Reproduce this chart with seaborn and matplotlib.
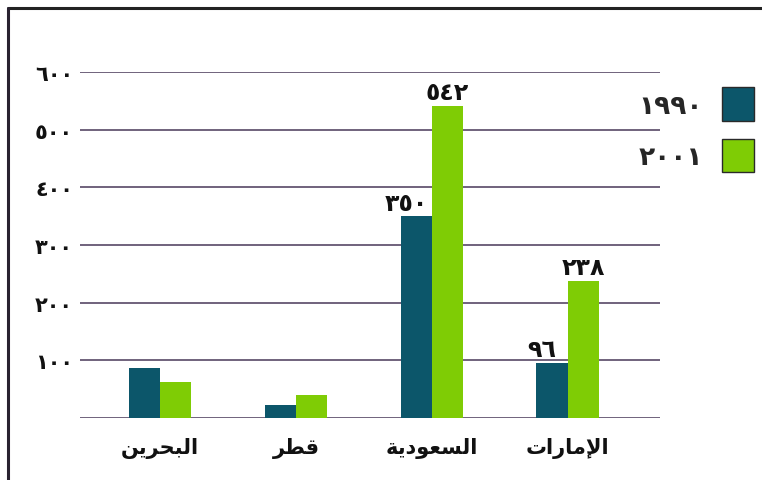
import pandas as pd
import matplotlib
matplotlib.use("Agg")
import matplotlib.pyplot as plt
from matplotlib.lines import Line2D
import seaborn as sns

# ---------------- data ----------------
COUNTRIES = ["البحرين", "قطر", "السعودية", "الإمارات"]
YEARS = ["١٩٩٠", "٢٠٠١"]
VALUES_1990 = [87, 22, 350, 96]
VALUES_2001 = [63, 40, 542, 238]
LABELS_1990 = ["", "", "٣٥٠", "٩٦"]
LABELS_2001 = ["", "", "٥٤٢", "٢٣٨"]
YTICKS = [0, 100, 200, 300, 400, 500, 600]
YTICK_LABELS = ["", "١٠٠", "٢٠٠", "٣٠٠", "٤٠٠", "٥٠٠", "٦٠٠"]

# ---------------- style ----------------
COLORS = {"١٩٩٠": "#0c566a", "٢٠٠١": "#7fcc05"}
GRID_COLOR = "#574866"
TEXT_COLOR = "#111111"
LABEL_SHIFT = {0: -7, 1: 0}     # points; 1990 labels sit a bit left of their bar

# tiny Arabic shaper (matplotlib has no complex text layout)
FORMS = {  # isolated, final, initial, medial
    "ا": ("\ufe8d", "\ufe8e", None, None),
    "إ": ("\ufe87", "\ufe88", None, None),
    "ب": ("\ufe8f", "\ufe90", "\ufe91", "\ufe92"),
    "ة": ("\ufe93", "\ufe94", None, None),
    "ت": ("\ufe95", "\ufe96", "\ufe97", "\ufe98"),
    "ح": ("\ufea1", "\ufea2", "\ufea3", "\ufea4"),
    "د": ("\ufea9", "\ufeaa", None, None),
    "ر": ("\ufead", "\ufeae", None, None),
    "س": ("\ufeb1", "\ufeb2", "\ufeb3", "\ufeb4"),
    "ط": ("\ufec1", "\ufec2", "\ufec3", "\ufec4"),
    "ع": ("\ufec9", "\ufeca", "\ufecb", "\ufecc"),
    "ق": ("\ufed5", "\ufed6", "\ufed7", "\ufed8"),
    "ل": ("\ufedd", "\ufede", "\ufedf", "\ufee0"),
    "م": ("\ufee1", "\ufee2", "\ufee3", "\ufee4"),
    "ن": ("\ufee5", "\ufee6", "\ufee7", "\ufee8"),
    "و": ("\ufeed", "\ufeee", None, None),
    "ي": ("\ufef1", "\ufef2", "\ufef3", "\ufef4"),
    "لا": ("\ufefb", "\ufefc", None, None),
    "لإ": ("\ufef9", "\ufefa", None, None),
}


def shape(word):
    units, i = [], 0
    while i < len(word):
        if word[i] == "ل" and i + 1 < len(word) and word[i:i + 2] in FORMS:
            units.append(word[i:i + 2]); i += 2
        else:
            units.append(word[i]); i += 1
    out = []
    for k, u in enumerate(units):
        f = FORMS[u]
        prev = k > 0 and FORMS[units[k - 1]][2] is not None
        nxt = k + 1 < len(units) and f[2] is not None
        if prev and nxt:
            out.append(f[3])
        elif prev:
            out.append(f[1])
        elif nxt:
            out.append(f[2])
        else:
            out.append(f[0])
    return "".join(reversed(out))


df = pd.DataFrame({
    "country": COUNTRIES * 2,
    "year": [YEARS[0]] * len(COUNTRIES) + [YEARS[1]] * len(COUNTRIES),
    "value": VALUES_1990 + VALUES_2001,
})

sns.set_theme(style="white")
plt.rcParams["font.family"] = ["DejaVu Sans"]
plt.rcParams["font.weight"] = "bold"

fig = plt.figure(figsize=(7.62, 4.81), dpi=100)
ax = fig.add_axes([0.105, 0.129, 0.761, 0.719])

sns.barplot(data=df, x="country", y="value", hue="year", order=COUNTRIES,
            hue_order=YEARS, palette=COLORS, width=0.46, gap=0, saturation=1,
            linewidth=0, ax=ax, zorder=3)

# value labels, placed from each bar's own top edge
for ci, (cont, labs) in enumerate(zip(ax.containers, [LABELS_1990, LABELS_2001])):
    for bar, lab in zip(cont, labs):
        if not lab:
            continue
        ax.annotate(lab, (bar.get_x() + bar.get_width() / 2, bar.get_height()),
                    xytext=(LABEL_SHIFT[ci], 1), textcoords="offset points",
                    ha="center", va="bottom", fontsize=17, fontweight="bold",
                    color=TEXT_COLOR)

ax.set_ylim(0, 600)
ax.set_xlim(-0.59, 3.68)
ax.set_yticks(YTICKS)
ax.set_yticklabels(YTICK_LABELS, fontsize=15, fontweight="bold", color=TEXT_COLOR)
ax.set_xticks(range(len(COUNTRIES)))
ax.set_xticklabels([shape(c) for c in COUNTRIES], fontsize=15, fontweight="bold",
                   color=TEXT_COLOR)
ax.tick_params(axis="y", length=0, pad=5)
ax.tick_params(axis="x", length=0, pad=14)
ax.set_xlabel(""); ax.set_ylabel("")
ax.yaxis.grid(True, color=GRID_COLOR, linewidth=1.2)
ax.set_axisbelow(True)
for s in ax.spines.values():
    s.set_visible(False)

handles, labels = ax.get_legend_handles_labels()
for h in handles:
    h.set_edgecolor("#2a2a2a"); h.set_linewidth(1.0)
ax.legend(handles, labels, loc="upper right", bbox_to_anchor=(1.004, 0.838),
          bbox_transform=fig.transFigure, frameon=False, markerfirst=False,
          fontsize=19, handlelength=1.25, handleheight=1.55, labelspacing=0.7,
          handletextpad=0.7, borderaxespad=0)

# page frame (top and left edges)
fig.add_artist(Line2D([8 / 762, 1], [1 - 9 / 481] * 2, color="#222222", lw=2.2))
fig.add_artist(Line2D([8 / 762] * 2, [0, 1 - 9 / 481], color="#2a2230", lw=2.2))

fig.savefig("out.png", dpi=100)
plt.close(fig)
